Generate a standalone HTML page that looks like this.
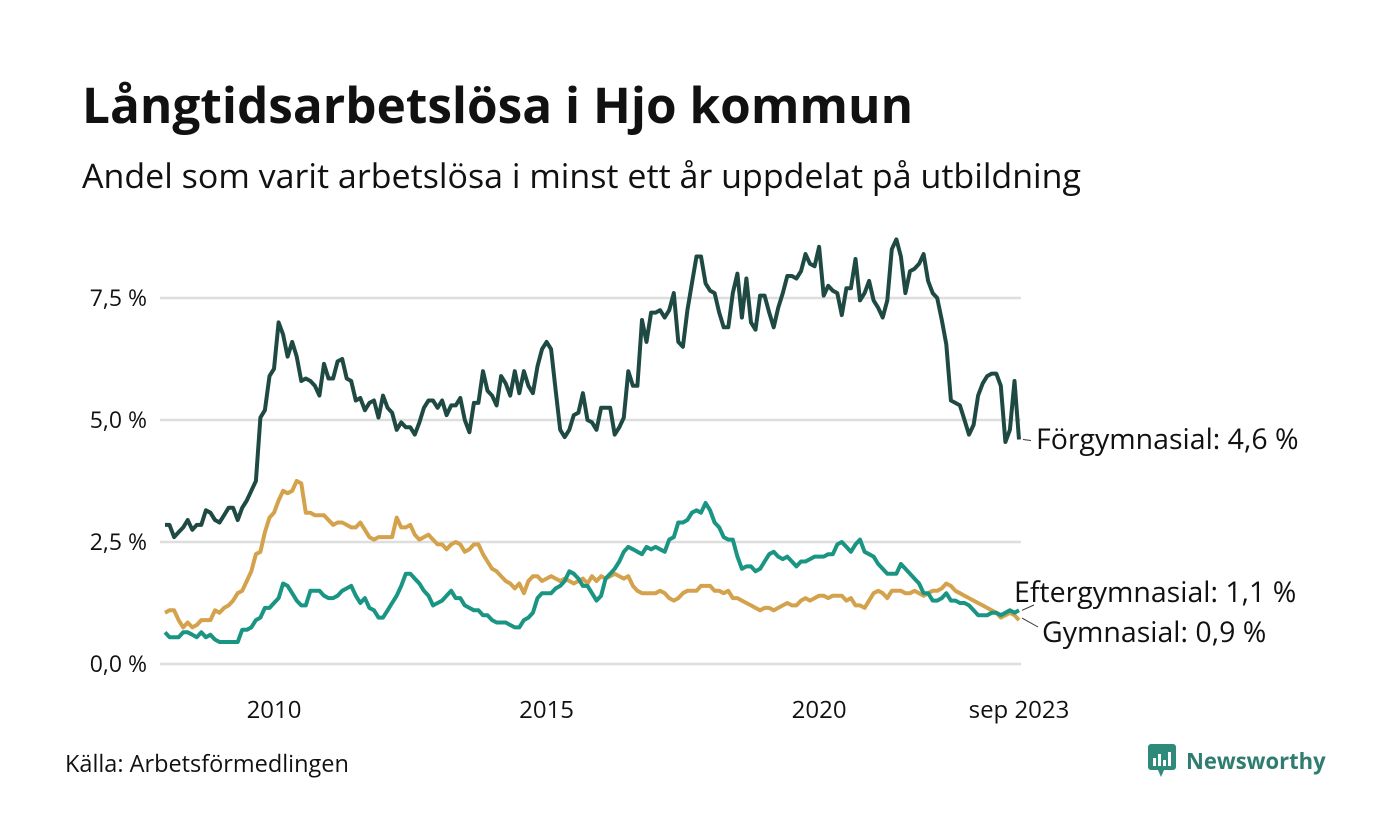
<!DOCTYPE html>
<html><head><meta charset="utf-8">
<style>
body{margin:0;width:1400px;height:840px;background:#fff;font-family:"Open Sans","Liberation Sans","DejaVu Sans",sans-serif;overflow:hidden;position:relative}
#title{position:absolute;left:82px;top:70px;font-size:49.5px;font-weight:bold;color:#111;margin:0;white-space:nowrap}
#sub{position:absolute;left:82px;top:152px;font-size:34px;color:#111;white-space:nowrap}
#src{position:absolute;left:65px;top:747px;font-size:23.5px;color:#111}
#logo{position:absolute;left:1148px;top:744px;display:flex;align-items:center;font-size:22px;font-weight:bold;color:#2e7d6e}
svg{position:absolute;left:0;top:0}
</style></head><body>
<h1 id="title">Långtidsarbetslösa i Hjo kommun</h1>
<div id="sub">Andel som varit arbetslösa i minst ett år uppdelat på utbildning</div>
<div id="src">Källa: Arbetsförmedlingen</div>
<div id="logo"><svg width="30" height="34" style="position:static;margin-right:8px"><rect x="0" y="0" width="28" height="26" rx="3" fill="#2e8b7a"/><polygon points="10,26 16,26 13,33" fill="#2e8b7a"/><rect x="5" y="14" width="3" height="8" fill="#fff"/><rect x="10" y="10" width="3" height="12" fill="#fff"/><rect x="15" y="16" width="3" height="6" fill="#fff"/><rect x="20" y="8" width="3" height="14" fill="#fff"/></svg>Newsworthy</div>
<svg id="chart" width="1400" height="840"></svg>
<script>
const yTicks=[0,2.5,5,7.5];
const yTickLabels=["0,0 %","2,5 %","5,0 %","7,5 %"];
const xTickYears=[2010,2015,2020];
const forgymnasial=[2.85,2.85,2.6,2.7,2.8,2.95,2.75,2.85,2.85,3.15,3.1,2.95,
2.9,3.05,3.2,3.2,2.95,3.2,3.35,3.55,3.75,5.05,5.2,5.9,
6.05,7.0,6.75,6.3,6.6,6.3,5.8,5.85,5.8,5.7,5.5,6.15,
5.85,5.85,6.2,6.25,5.85,5.8,5.4,5.45,5.2,5.35,5.4,5.05,
5.5,5.25,5.15,4.8,4.95,4.85,4.85,4.7,4.95,5.25,5.4,5.4,
5.25,5.4,5.1,5.3,5.3,5.45,5.0,4.75,5.35,5.35,6.0,5.6,
5.5,5.3,5.9,5.75,5.5,6.0,5.55,6.0,5.7,5.55,6.1,6.45,
6.6,6.45,5.6,4.8,4.65,4.8,5.1,5.15,5.55,5.0,4.95,4.8,
5.25,5.25,5.25,4.7,4.85,5.05,6.0,5.7,5.7,7.05,6.6,7.2,
7.2,7.25,7.1,7.25,7.6,6.6,6.5,7.25,7.8,8.35,8.35,7.8,
7.65,7.6,7.2,6.9,6.9,7.6,8.0,7.1,7.9,7.0,6.85,7.55,
7.55,7.2,6.9,7.3,7.6,7.95,7.95,7.9,8.05,8.4,8.2,8.15,
8.55,7.55,7.75,7.65,7.6,7.15,7.7,7.7,8.3,7.45,7.6,7.85,
7.45,7.3,7.1,7.45,8.5,8.7,8.35,7.6,8.05,8.1,8.2,8.4,
7.85,7.6,7.5,7.05,6.55,5.4,5.35,5.3,5.0,4.7,4.9,5.5,
5.75,5.9,5.95,5.95,5.7,4.55,4.8,5.8,4.6];
const gymnasial=[1.05,1.1,1.1,0.9,0.75,0.85,0.75,0.8,0.9,0.9,0.9,1.1,
1.05,1.15,1.2,1.3,1.45,1.5,1.7,1.9,2.25,2.3,2.7,3.0,
3.1,3.35,3.55,3.5,3.55,3.75,3.7,3.1,3.1,3.05,3.05,3.05,
2.95,2.85,2.9,2.9,2.85,2.8,2.8,2.9,2.75,2.6,2.55,2.6,
2.6,2.6,2.6,3.0,2.8,2.8,2.85,2.65,2.55,2.6,2.65,2.55,
2.45,2.45,2.35,2.45,2.5,2.45,2.3,2.35,2.45,2.45,2.25,2.1,
1.95,1.9,1.8,1.7,1.65,1.55,1.65,1.45,1.7,1.8,1.8,1.7,
1.75,1.8,1.75,1.7,1.75,1.7,1.65,1.7,1.75,1.65,1.8,1.7,
1.8,1.75,1.8,1.85,1.8,1.75,1.8,1.6,1.5,1.45,1.45,1.45,
1.45,1.5,1.45,1.35,1.3,1.35,1.45,1.5,1.5,1.5,1.6,1.6,
1.6,1.5,1.5,1.45,1.5,1.35,1.35,1.3,1.25,1.2,1.15,1.1,
1.15,1.15,1.1,1.15,1.2,1.25,1.2,1.2,1.3,1.35,1.3,1.35,
1.4,1.4,1.35,1.4,1.4,1.4,1.3,1.35,1.2,1.2,1.15,1.3,
1.45,1.5,1.45,1.35,1.5,1.5,1.5,1.45,1.45,1.5,1.45,1.4,
1.45,1.5,1.5,1.55,1.65,1.6,1.5,1.45,1.4,1.35,1.3,1.25,
1.2,1.15,1.1,1.05,0.95,1.0,1.05,1.0,0.9];
const eftergymnasial=[0.65,0.55,0.55,0.55,0.65,0.65,0.6,0.55,0.65,0.55,0.6,0.5,
0.45,0.45,0.45,0.45,0.45,0.7,0.7,0.75,0.9,0.95,1.15,1.15,
1.25,1.35,1.65,1.6,1.45,1.3,1.2,1.2,1.5,1.5,1.5,1.4,
1.35,1.35,1.4,1.5,1.55,1.6,1.4,1.25,1.35,1.15,1.1,0.95,
0.95,1.1,1.25,1.4,1.6,1.85,1.85,1.75,1.65,1.5,1.4,1.2,
1.25,1.3,1.4,1.5,1.35,1.35,1.2,1.15,1.1,1.1,1.0,1.0,
0.9,0.85,0.85,0.85,0.8,0.75,0.75,0.9,0.95,1.05,1.35,1.45,
1.45,1.45,1.55,1.6,1.7,1.9,1.85,1.75,1.6,1.6,1.45,1.3,
1.4,1.75,1.85,1.95,2.1,2.3,2.4,2.35,2.3,2.25,2.4,2.35,
2.4,2.35,2.3,2.55,2.6,2.9,2.9,2.95,3.1,3.15,3.1,3.3,
3.15,2.9,2.8,2.6,2.55,2.55,2.2,1.95,2.0,2.0,1.9,1.95,
2.1,2.25,2.3,2.2,2.15,2.2,2.1,2.0,2.1,2.1,2.15,2.2,
2.2,2.2,2.25,2.25,2.45,2.5,2.4,2.3,2.45,2.55,2.3,2.25,
2.2,2.05,1.95,1.85,1.85,1.85,2.05,1.95,1.85,1.75,1.65,1.45,
1.45,1.3,1.3,1.35,1.45,1.3,1.3,1.25,1.25,1.2,1.1,1.0,
1.0,1.0,1.05,1.05,1.0,1.05,1.1,1.05,1.1];

const svg=document.getElementById('chart');
const NS='http://www.w3.org/2000/svg';
const x0=165,x1=1019,y0=664,pxPer=48.8;
const n=forgymnasial.length;
const xScale=i=>x0+(x1-x0)*i/(n-1);
const yScale=v=>y0-v*pxPer;
const xYear=yr=>xScale((yr-2008)*12);
function mk(tag,attrs){const e=document.createElementNS(NS,tag);for(const k in attrs)e.setAttribute(k,attrs[k]);svg.appendChild(e);return e;}
yTicks.forEach((t,i)=>{
  const g=mk('line',{x1:160,x2:1021,y1:yScale(t),y2:yScale(t),stroke:'#dedede','stroke-width':2.5});
  
  
  const l=mk('text',{x:147,y:yScale(t)+8,'text-anchor':'end','font-size':23,fill:'#111'});
  l.textContent=yTickLabels[i];
  
  
});
xTickYears.forEach(yr=>{
  const l=mk('text',{x:xYear(yr),y:718,'text-anchor':'middle','font-size':24,fill:'#111'});
  l.textContent=String(yr);
  
  
});
const lastL=mk('text',{x:x1,y:718,'text-anchor':'middle','font-size':24,fill:'#111'});
lastL.textContent='sep 2023';


function line(data,color,name){
  const d=data.map((v,i)=>(i?'L':'M')+xScale(i).toFixed(1)+','+yScale(v).toFixed(1)).join('');
  const p=mk('path',{d:d,fill:'none',stroke:color,'stroke-width':4,'stroke-linejoin':'round'});
  
  
}
line(gymnasial,'#d4a24c','gymnasial-line');
line(eftergymnasial,'#1a9583','eftergymnasial-line');
line(forgymnasial,'#1f4a44','forgymnasial-line');
function label(txt,x,y,lx1,ly1,lx2,ly2,name){
  const ln=mk('line',{x1:lx1,y1:ly1,x2:lx2,y2:ly2,stroke:'#333','stroke-width':1});
  
  
  const t=mk('text',{x:x,y:y,'font-size':28.5,fill:'#111'});
  t.textContent=txt;
  
  
}
const lf=forgymnasial[n-1],le=eftergymnasial[n-1],lg=gymnasial[n-1];
label('Förgymnasial: '+String(lf).replace('.',',')+' %',1036,449,1023,yScale(lf),1031,yScale(lf)+1,'forgymnasial-label');
label('Eftergymnasial: '+String(le).replace('.',',')+' %',1014,602,1022,yScale(le),1034,605,'eftergymnasial-label');
label('Gymnasial: '+String(lg).replace('.',',')+' %',1042,642,1022,yScale(lg)-2,1038,627,'gymnasial-label');
</script>
</body></html>
